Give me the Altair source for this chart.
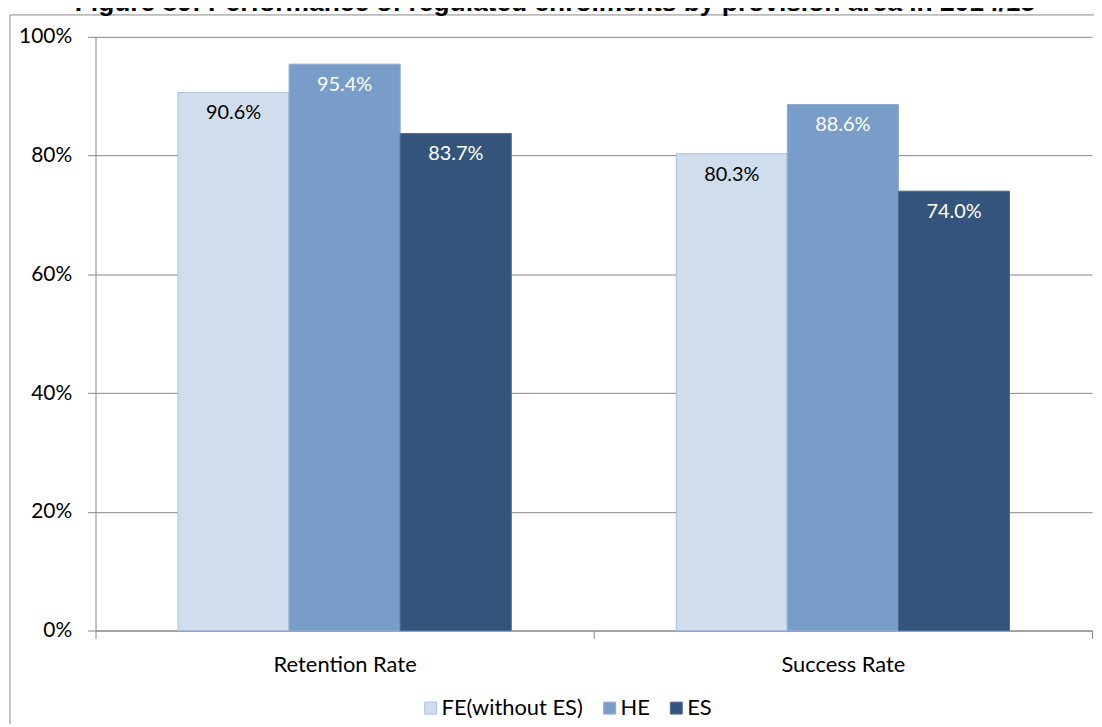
import altair as alt
import pandas as pd

# ---- data ----
categories = ["Retention Rate", "Success Rate"]
series = ["FE(without ES)", "HE", "ES"]
retention = [0.906, 0.954, 0.837]
success = [0.803, 0.886, 0.740]
y_ticks = [0, 0.2, 0.4, 0.6, 0.8, 1.0]
title_text = "Figure 89: Performance of regulated enrolments by provision area in 2014/15"

# ---- styles ----
fill_colors = ["#CFDDEC", "#779DC8", "#34547C"]
stroke_colors = ["#A7BEDC", "#8DAAD0", "#4A6A93"]
grey = "#878787"
FONT = "Lato"

rows = []
for cat, vals in zip(categories, [retention, success]):
    for s, v in zip(series, vals):
        rows.append({"category": cat, "series": s, "value": v})
df = pd.DataFrame(rows)

W, H = 1002, 597

x_enc = alt.X(
    "category:N", sort=categories, title=None,
    scale=alt.Scale(paddingInner=0, paddingOuter=0),
    axis=alt.Axis(tickBand="extent", labelAngle=0, grid=False, tickSize=8,
                  labelPadding=16, domainColor=grey, tickColor=grey,
                  labelFont=FONT, labelFontSize=22, labelColor="#000000"),
)
xoff_enc = alt.XOffset("series:N", sort=series,
                       scale=alt.Scale(paddingInner=0, paddingOuter=0.7425))
y_enc = alt.Y(
    "value:Q", title=None,
    scale=alt.Scale(domain=[0, 1], nice=False),
    axis=alt.Axis(values=y_ticks, format=".0%", grid=True, gridColor=grey,
                  domainColor=grey, tickColor=grey, tickSize=8, labelPadding=16,
                  labelFont=FONT, labelFontSize=21, labelColor="#000000"),
)

base = alt.Chart(df)

bars = base.mark_bar(strokeWidth=1).encode(
    x=x_enc,
    xOffset=xoff_enc,
    y=y_enc,
    color=alt.Color(
        "series:N", sort=series,
        scale=alt.Scale(domain=series, range=fill_colors),
        legend=alt.Legend(
            title=None, orient="none", direction="horizontal",
            legendX=326, legendY=664, symbolType="square", symbolSize=144,
            symbolStrokeColor="#A7BEDC", symbolStrokeWidth=1,
            labelFont=FONT, labelFontSize=22, labelColor="#000000",
            labelOffset=0, columnPadding=15, padding=0,
        ),
    ),
    stroke=alt.Stroke("series:N", sort=series,
                      scale=alt.Scale(domain=series, range=stroke_colors),
                      legend=None),
)

labels = base.mark_text(baseline="middle", dy=21, font=FONT, fontSize=20).encode(
    x=alt.X("category:N", sort=categories),
    xOffset=alt.XOffset("series:N", sort=series),
    y=alt.Y("value:Q"),
    text=alt.Text("value:Q", format=".1%"),
    color=alt.condition(alt.datum.series == series[0],
                        alt.value("#000000"), alt.value("#FFFFFF")),
)

border = alt.Chart(alt.Data(values=[{}])).mark_rect(
    fillOpacity=0, stroke=grey, strokeWidth=1
).encode(
    x=alt.value(-86), x2=alt.value(1400), y=alt.value(-22), y2=alt.value(900)
)

title = alt.Chart(alt.Data(values=[{"t": title_text}])).mark_text(
    font="Liberation Sans", fontWeight="bold", fontSize=26.5,
    align="center", baseline="alphabetic", color="#000000"
).encode(
    x=alt.value(462), y=alt.value(-26), text="t:N"
)

chart = (
    alt.layer(border, bars, labels, title)
    .properties(
        width=W, height=H,
        autosize=alt.AutoSizeParams(type="none"),
        padding={"left": 88, "top": 27, "right": 2, "bottom": 92},
    )
    .configure_view(stroke=None)
)

chart.save("out.html", embed_options={"renderer": "svg", "actions": False})
